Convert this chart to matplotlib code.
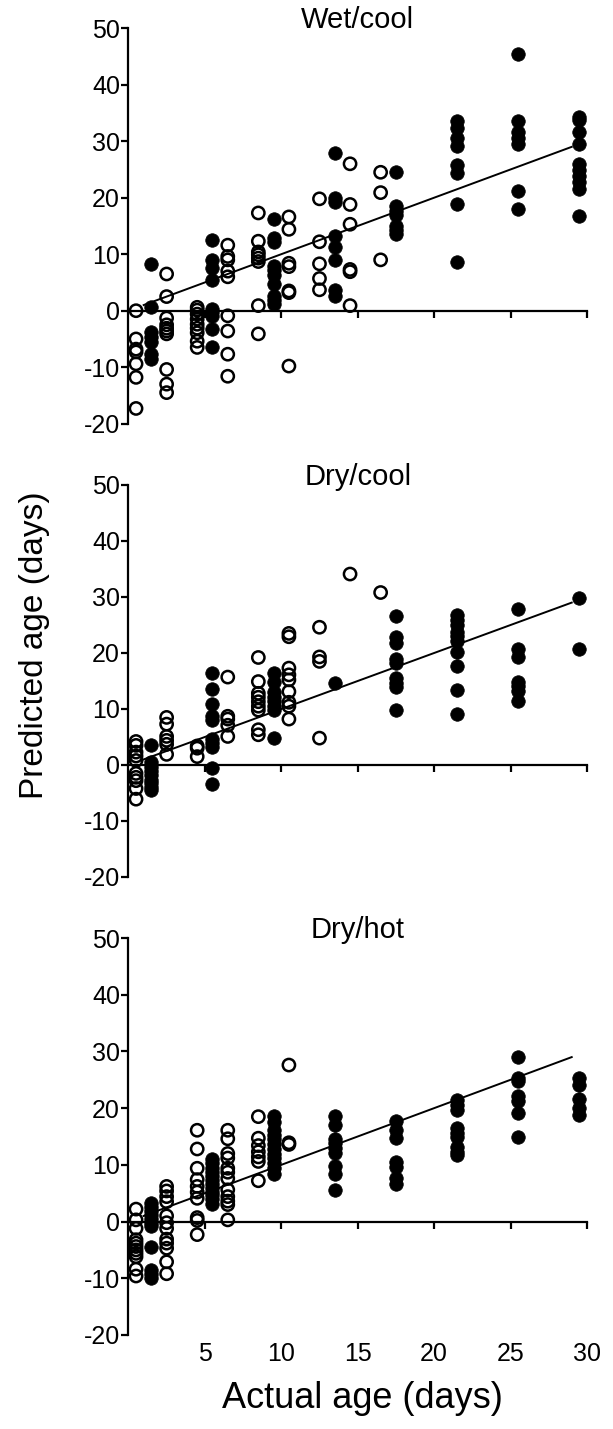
import matplotlib
matplotlib.use("Agg")
import matplotlib.pyplot as plt

plt.rcParams['font.family'] = ['Liberation Sans', 'DejaVu Sans']

# ---------------- data ----------------
panel_titles = ["Wet/cool", "Dry/cool", "Dry/hot"]
x_ticks = [5, 10, 15, 20, 25, 30]
y_ticks = [-20, -10, 0, 10, 20, 30, 40, 50]
fit_x = [1, 29]
fit_y = [1, 29]

wet_cool_open = {
    0.5: [0.0, -5.0, -6.8, -7.3, -9.4, -11.8, -17.3],
    2.5: [6.5, 2.5, -1.3, -2.5, -3.1, -3.6, -4.1, -10.4, -13.0, -14.5],
    4.5: [0.6, 0.1, -0.6, -1.5, -2.4, -3.1, -3.9, -5.4, -6.5],
    6.5: [11.6, 9.6, 9.0, 7.0, 6.0, -0.9, -3.6, -7.7, -11.6],
    8.5: [17.3, 12.3, 10.4, 9.9, 9.3, 8.7, 0.9, -4.1],
    10.5: [16.6, 14.4, 8.4, 7.8, 3.5, 3.2, -9.8],
    12.5: [19.8, 12.2, 8.3, 5.7, 3.7],
    14.5: [26.0, 18.8, 15.3, 7.3, 6.9, 0.9],
    16.5: [24.5, 20.9, 9.0],
}
wet_cool_filled = {
    1.5: [8.2, 0.6, -3.8, -4.6, -5.6, -7.7, -8.6],
    5.5: [12.5, 9.0, 7.6, 5.5, 0.3, -0.2, -0.9, -3.3, -6.4],
    9.5: [16.2, 12.9, 12.2, 7.9, 7.2, 6.3, 4.8, 2.6, 1.9, 1.2],
    13.5: [27.9, 19.9, 19.3, 13.2, 11.2, 9.0, 3.7, 2.6],
    17.5: [24.5, 18.6, 17.7, 17.0, 15.0, 14.2, 13.5],
    21.5: [33.5, 32.4, 30.6, 29.1, 25.8, 24.4, 18.8, 8.6],
    25.5: [45.4, 33.5, 31.7, 30.6, 29.5, 21.2, 18.0],
    29.5: [34.3, 33.7, 31.6, 29.5, 26.0, 24.9, 23.9, 22.7, 21.5, 16.7],
}

dry_cool_open = {
    0.5: [4.2, 3.5, 2.3, 1.6, 0.8, -1.5, -2.2, -2.8, -4.2, -6.1],
    2.5: [8.5, 7.3, 5.1, 4.4, 3.7, 1.9],
    4.5: [3.4, 3.0, 1.5],
    6.5: [15.7, 8.7, 8.2, 7.1, 5.1],
    8.5: [19.2, 14.9, 12.8, 12.1, 11.3, 10.5, 9.8, 6.3, 5.4],
    10.5: [23.5, 22.9, 17.3, 16.1, 15.2, 13.1, 11.2, 10.5, 8.2],
    12.5: [24.6, 19.3, 18.5, 4.8],
    14.5: [34.1],
    16.5: [30.8],
}
dry_cool_filled = {
    1.5: [3.5, 0.5, -0.3, -1.0, -1.8, -2.6, -3.3, -3.9, -4.4],
    5.5: [16.4, 13.5, 10.9, 8.8, 8.0, 4.7, 3.9, 3.2, -0.5, -3.4],
    9.5: [16.5, 14.9, 13.0, 12.1, 11.5, 10.6, 9.8, 4.8],
    13.5: [14.7],
    17.5: [26.6, 22.8, 21.7, 19.0, 18.2, 15.5, 14.7, 14.0, 9.9],
    21.5: [26.8, 25.9, 25.0, 23.8, 23.0, 22.2, 20.1, 17.7, 13.4, 9.1],
    25.5: [27.9, 20.8, 19.2, 14.9, 14.1, 13.3, 11.5],
    29.5: [29.8, 20.7],
}

dry_hot_open = {
    0.5: [2.2, 0.3, -1.2, -3.2, -3.8, -4.4, -5.0, -5.6, -6.2, -8.4, -9.6],
    2.5: [6.2, 5.4, 4.4, 3.5, 1.0, -0.2, -1.2, -3.1, -3.8, -4.7, -7.1, -9.2],
    4.5: [16.1, 12.8, 9.4, 7.4, 6.2, 5.2, 4.1, 0.7, 0.2, -2.3],
    6.5: [16.1, 14.6, 12.0, 11.2, 9.4, 8.7, 7.6, 5.6, 4.4, 3.6, 3.0, 0.3],
    8.5: [18.5, 14.7, 13.4, 12.3, 11.4, 10.6, 7.2],
    10.5: [27.6, 13.9, 13.6],
}
dry_hot_filled = {
    1.5: [3.3, 2.6, 1.9, 1.2, 0.5, -0.2, -0.8, -4.4, -8.6, -9.3, -10.0],
    5.5: [11.0, 10.3, 9.5, 8.8, 8.0, 7.3, 6.7, 6.0, 5.3, 4.6, 3.9, 3.1],
    9.5: [18.6, 17.5, 16.2, 15.3, 14.5, 13.6, 12.8, 12.0, 11.2, 10.3, 9.5, 8.4],
    13.5: [18.6, 17.1, 14.5, 13.8, 12.9, 12.1, 9.8, 8.4, 5.5],
    17.5: [17.8, 16.2, 14.7, 10.5, 9.7, 7.6, 6.6],
    21.5: [21.4, 20.6, 19.7, 16.5, 15.7, 15.0, 13.2, 12.2, 11.8],
    25.5: [29.0, 25.4, 24.7, 22.2, 21.2, 19.1, 14.9],
    29.5: [25.4, 24.1, 21.6, 20.0, 18.8],
}

panels = [
    (wet_cool_open, wet_cool_filled),
    (dry_cool_open, dry_cool_filled),
    (dry_hot_open, dry_hot_filled),
]

# ---------------- figure ----------------
W, H = 613, 1429
fig = plt.figure(figsize=(W / 100, H / 100), dpi=100)

left = 128.4 / W
width = (587.0 - 128.4) / W
axes_px = [(28.2, 423.7), (485.0, 877.0), (938.0, 1335.0)]

TICK_FS = 18
TITLE_FS = 21
XLABEL_FS = 26
YLABEL_FS = 24


def flatten(d):
    xs, ys = [], []
    for k, vals in d.items():
        for v in vals:
            xs.append(k)
            ys.append(v)
    return xs, ys


for i, ((op, fi), title) in enumerate(zip(panels, panel_titles)):
    top_px, bot_px = axes_px[i]
    ax = fig.add_axes([left, 1 - bot_px / H, width, (bot_px - top_px) / H])
    ax.set_xlim(0, 30)
    ax.set_ylim(-20, 50)

    ox, oy = flatten(op)
    fx, fy = flatten(fi)
    ax.scatter(ox, oy, s=78, facecolors='none', edgecolors='black',
               linewidths=1.8, zorder=3, clip_on=False)
    ax.scatter(fx, fy, s=95, facecolors='black', edgecolors='black',
               linewidths=0.5, zorder=3, clip_on=False)
    ax.plot(fit_x, fit_y, color='black', lw=1.4, zorder=2)

    for s in ['top', 'right']:
        ax.spines[s].set_visible(False)
    ax.spines['bottom'].set_position(('data', 0))
    ax.spines['left'].set_linewidth(1.6)
    ax.spines['bottom'].set_linewidth(1.6)

    ax.set_yticks(y_ticks)
    ax.set_yticklabels([str(t) for t in y_ticks], fontsize=TICK_FS)
    ax.tick_params(axis='y', direction='out', length=5, width=1.6, pad=1)

    ax.set_xticks(x_ticks)
    ax.set_xticklabels([])
    ax.tick_params(axis='x', direction='out', length=5, width=1.6)

    ax.text(0.5, 1.0, title, transform=ax.transAxes, ha='center',
            va='baseline', fontsize=TITLE_FS)

    if i == 2:
        sec = ax.secondary_xaxis('bottom')
        sec.set_xticks(x_ticks)
        sec.set_xticklabels([str(t) for t in x_ticks], fontsize=TICK_FS)
        sec.spines['bottom'].set_visible(False)
        sec.tick_params(axis='x', length=0, pad=5)

fig.text(0.057, 1 - 645 / H, "Predicted age (days)", rotation=90,
         ha='center', va='center', fontsize=YLABEL_FS)
fig.text(362 / W, 1 - 1398 / H, "Actual age (days)",
         ha='center', va='center', fontsize=XLABEL_FS)

fig.savefig("out.png", dpi=100)
